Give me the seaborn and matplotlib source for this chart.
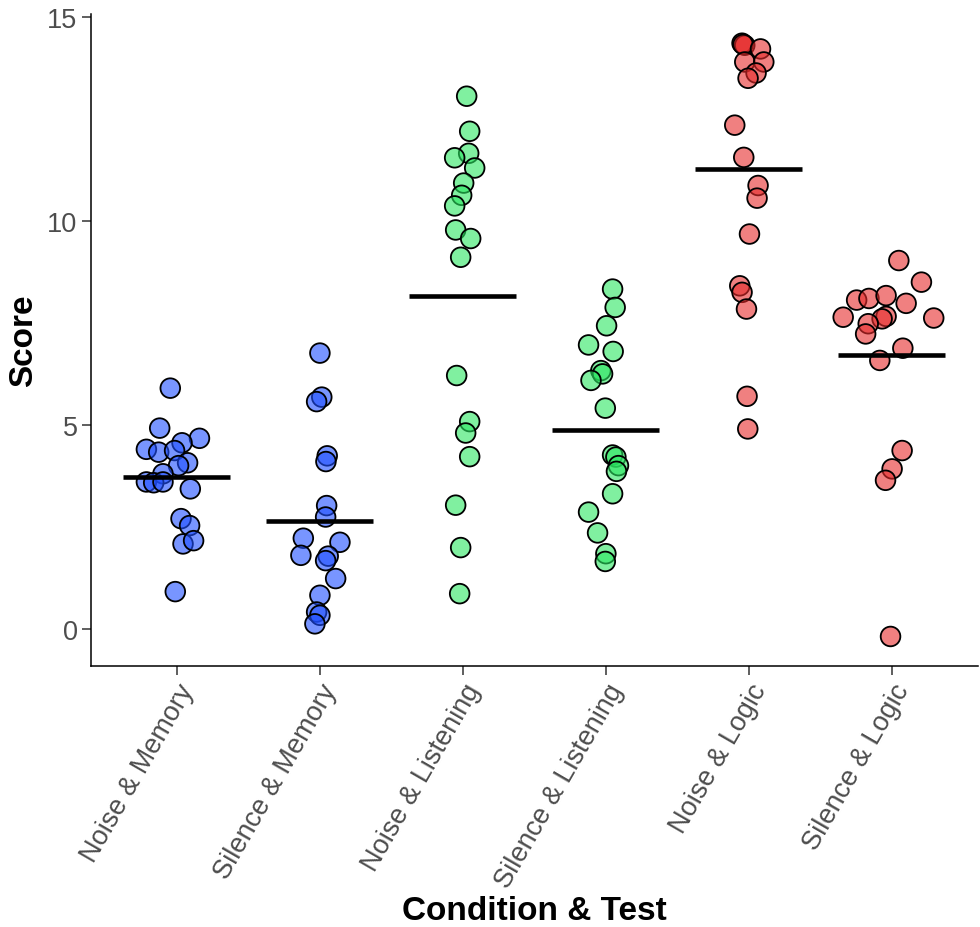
import matplotlib
matplotlib.use("Agg")
import matplotlib.pyplot as plt
import seaborn as sns
import pandas as pd
import numpy as np

# groups in plotting order
categories = ["Noise & Memory", "Silence & Memory", "Noise & Listening",
              "Silence & Listening", "Noise & Logic", "Silence & Logic"]

noise_memory = [5.90, 4.92, 4.67, 4.56, 4.40, 4.33, 4.37, 4.07, 4.00, 3.80,
                3.60, 3.58, 3.60, 3.43, 2.70, 2.53, 2.08, 2.16, 0.91]
noise_memory_jit = [-0.044, -0.118, 0.160, 0.038, -0.211, -0.125, -0.014, 0.077, 0.014, -0.095,
                    -0.211, -0.160, -0.095, 0.096, 0.031, 0.091, 0.045, 0.119, -0.009]

silence_memory = [6.76, 5.68, 5.57, 4.24, 4.10, 3.02, 2.74, 2.22, 2.12, 1.80,
                  1.78, 1.67, 1.23, 0.82, 0.41, 0.33, 0.12]
silence_memory_jit = [0.002, 0.015, -0.021, 0.053, 0.044, 0.049, 0.042, -0.114, 0.142, -0.131,
                      0.060, 0.042, 0.112, 0.002, -0.021, 0.002, -0.033]

noise_listening = [13.06, 12.20, 11.66, 11.55, 11.30, 10.93, 10.63, 10.37, 9.78, 9.57,
                   9.11, 6.21, 5.08, 4.80, 4.22, 3.03, 1.99, 0.86]
noise_listening_jit = [0.028, 0.049, 0.042, -0.056, 0.084, 0.007, -0.007, -0.056, -0.049, 0.056,
                       -0.014, -0.042, 0.049, 0.021, 0.049, -0.049, -0.014, -0.021]

silence_listening = [8.33, 7.88, 7.43, 6.96, 6.80, 6.33, 6.25, 6.09, 5.41, 4.26,
                     4.21, 4.00, 3.86, 3.31, 2.86, 2.35, 1.84, 1.65]
silence_listening_jit = [0.048, 0.066, 0.006, -0.120, 0.052, -0.034, -0.022, -0.103, -0.003, 0.048,
                         0.071, 0.089, 0.075, 0.048, -0.120, -0.057, 0.001, -0.003]

noise_logic = [14.36, 14.31, 14.33, 14.22, 13.90, 13.90, 13.63, 13.50, 12.35, 11.56,
               10.87, 10.56, 9.68, 8.41, 8.25, 7.84, 5.70, 4.90]
noise_logic_jit = [-0.047, -0.028, -0.040, 0.082, -0.028, 0.105, 0.051, -0.005, -0.098, -0.035,
                   0.065, 0.058, 0.005, -0.063, -0.047, -0.016, -0.012, -0.007]

silence_logic = [9.03, 8.50, 8.06, 8.10, 8.17, 7.98, 7.64, 7.62, 7.66, 7.60,
                 7.48, 7.23, 6.88, 6.58, 4.37, 3.92, 3.64, -0.19]
silence_logic_jit = [0.049, 0.207, -0.246, -0.160, -0.040, 0.100, -0.340, 0.293, -0.040, -0.068,
                     -0.165, -0.183, 0.077, -0.084, 0.072, 0.002, -0.044, -0.009]

# group means as drawn (black bars)
group_means = [3.73, 2.64, 8.16, 4.88, 11.27, 6.72]

group_colors = ["#1F4FFF", "#1F4FFF", "#2BE661", "#2BE661", "#E62B2B", "#E62B2B"]

scores = [noise_memory, silence_memory, noise_listening,
          silence_listening, noise_logic, silence_logic]
jitters = [noise_memory_jit, silence_memory_jit, noise_listening_jit,
           silence_listening_jit, noise_logic_jit, silence_logic_jit]

rows = []
for i, cat in enumerate(categories):
    for s, j in zip(scores[i], jitters[i]):
        rows.append({"group": cat, "score": s, "pos": i + j})
df = pd.DataFrame(rows)

sns.set_theme(style="ticks")
plt.rcParams["font.family"] = ["Liberation Sans", "DejaVu Sans"]

fig = plt.figure(figsize=(9.8, 9.28), dpi=100)
ax = fig.add_axes([0.0926, 0.281, 0.905, 0.703])

sns.scatterplot(data=df, x="pos", y="score", hue="group",
                palette=dict(zip(categories, group_colors)),
                s=200, linewidth=1.3, legend=False, ax=ax, zorder=2)

# alpha on the fill only, solid black outline
coll = ax.collections[0]
fc = coll.get_facecolors().copy()
coll.set_alpha(None)
fc[:, 3] = 0.6
coll.set_facecolors(fc)
coll.set_edgecolors((0, 0, 0, 1))

ax.hlines(group_means, np.arange(len(categories)) - 0.375,
          np.arange(len(categories)) + 0.375, color="black", lw=3.3, zorder=3)

ax.set_xlim(-0.6, 5.6)
ax.set_ylim(-0.92, 15.08)
ax.set_xticks(range(len(categories)))
ax.set_xticklabels(categories, rotation=60, ha="right", rotation_mode="anchor")
ax.set_yticks([0, 5, 10, 15])

sns.despine(ax=ax)
for side in ["left", "bottom"]:
    ax.spines[side].set_color("black")
    ax.spines[side].set_linewidth(1.1)

ax.tick_params(axis="both", length=6.5, width=1.1, color="#333333",
               labelcolor="#4D4D4D", labelsize=19.5, pad=3)

ax.set_xlabel("Condition & Test", fontsize=24, fontweight="bold", color="black")
ax.set_ylabel("Score", fontsize=24, fontweight="bold", color="black")
ax.xaxis.set_label_coords(0.5, -0.35)
ax.yaxis.set_label_coords(-0.058, 0.5)

fig.savefig("out.png", dpi=100)
